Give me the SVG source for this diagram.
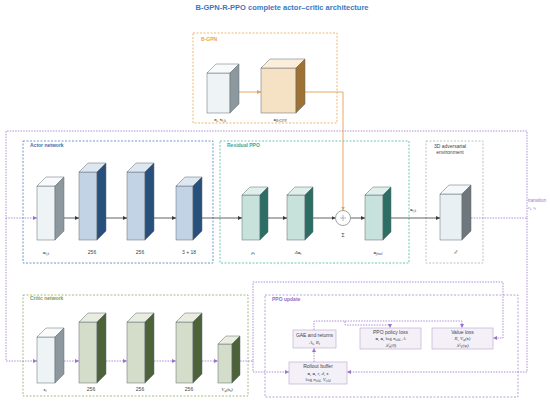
<svg xmlns="http://www.w3.org/2000/svg" width="550" height="402" viewBox="0 0 550 402">
<defs>
<style>
text{font-family:"Liberation Sans",Arial,sans-serif;font-size:5px;fill:#444}
.m{font-family:"Liberation Serif","Times New Roman",serif;font-style:italic}
.b{font-weight:bold;font-style:normal}
.sub{font-size:3.6px}
.lbl{font-weight:bold;font-size:5px}
.box{fill:none;stroke-width:0.8;stroke-dasharray:2,1.5}
.cs{stroke:#5f6a70;stroke-width:0.5}
.gf{fill:#eef3f6}.gt{fill:#f8fafb}.gs{fill:#8d989e}
.bf{fill:#c3d3e6}.bt{fill:#dde7f1}.bs{fill:#27507c}
.tf{fill:#c6e2da}.tt{fill:#dff0ea}.ts{fill:#2d6e64}
.sf{fill:#d4ddc9}.st{fill:#e8ede0}.ss{fill:#4c6239}
.of{fill:#f5e1c3}.ot{fill:#fbefdc}.os{fill:#9e7235}
.ef{fill:#e8f0f4}.et{fill:#f5f8fa}.es{fill:#6f777c}
.dk{fill:none;stroke:#3a3a3a;stroke-width:0.8;marker-end:url(#ad)}
.pu{fill:none;stroke:#9b72cf;stroke-width:0.8;stroke-dasharray:1.5,1.2}
.pa{marker-end:url(#ap)}
.or{fill:none;stroke:#e8a050;stroke-width:0.9}
.pb{fill:#f4f0f8;stroke:#b9a6d4;stroke-width:0.6}
</style>
<marker id="ad" viewBox="0 0 6 6" refX="6" refY="3" markerWidth="4" markerHeight="4" orient="auto" markerUnits="userSpaceOnUse"><path d="M0,0 L6,3 L0,6 z" fill="#3a3a3a"/></marker>
<marker id="ap" viewBox="0 0 6 6" refX="6" refY="3" markerWidth="4" markerHeight="4" orient="auto" markerUnits="userSpaceOnUse"><path d="M0,0 L6,3 L0,6 z" fill="#9b72cf"/></marker>
<marker id="ao" viewBox="0 0 6 6" refX="6" refY="3" markerWidth="4" markerHeight="4" orient="auto" markerUnits="userSpaceOnUse"><path d="M0,0 L6,3 L0,6 z" fill="#e8a050"/></marker>
</defs>
<rect width="550" height="402" fill="#fff"/>
<text x="282" y="10" text-anchor="middle" style="font-size:7.5px;font-weight:bold;fill:#3a78c0">B-GPN-R-PPO complete actor–critic architecture</text>

<!-- containers -->
<g id="bgpn-box"><rect class="box" x="193" y="33" width="144" height="90" stroke="#e8a84c"/><text x="201" y="41" class="lbl" style="fill:#e8a84c">B-GPN</text></g>
<g id="actor-box"><rect class="box" x="23" y="141" width="190" height="122" stroke="#4a7fc0"/><text x="30" y="147" class="lbl" style="fill:#3a6fb0">Actor network</text></g>
<g id="residual-box"><rect class="box" x="220" y="141" width="189" height="122" stroke="#4db8a8"/><text x="227" y="147" class="lbl" style="fill:#3aa898">Residual PPO</text></g>
<g id="env-box"><rect class="box" x="426" y="141" width="57" height="122" stroke="#b0b0b0"/><text x="450" y="148" text-anchor="middle">3D adversarial</text><text x="450" y="154" text-anchor="middle">environment</text></g>
<g id="critic-box"><rect class="box" x="23" y="295" width="225" height="101" stroke="#8fa860"/><text x="30" y="300" class="lbl" style="fill:#7f9a50">Critic network</text></g>
<g id="ppo-box"><rect class="box" x="265" y="295" width="253" height="102" stroke="#a58bd0"/><text x="272" y="301" class="lbl" style="fill:#9070c0">PPO update</text></g>

<!-- connectors -->
<g id="connectors">
<path class="or" d="M239,92 L261,92" marker-end="url(#ao)"/>
<path class="or" d="M305,92 L343,92 L343,210.5" marker-end="url(#ao)"/>
<path class="dk" d="M64,218 L79,218"/>
<path class="dk" d="M106,218 L127,218"/>
<path class="dk" d="M154,218 L176,218"/>
<path class="dk" d="M202,218 L242,218"/>
<path class="dk" d="M268,218 L287,218"/>
<path class="dk" d="M313,218 L335.5,218"/>
<path class="dk" d="M350.5,218 L365,218"/>
<path class="dk" d="M391,218 L440,218"/>
<path class="pu pa" d="M471,218 L527,218 L527,131 L6,131 L6,218 L37,218"/>
<path class="pu pa" d="M6,218 L6,361 L37,361"/>
<path class="pu pa" d="M527,218 L527,372 L347,372"/>
<path class="pu pa" d="M64,361 L79,361"/>
<path class="pu pa" d="M106,361 L127,361"/>
<path class="pu pa" d="M154,361 L176,361"/>
<path class="pu pa" d="M202,361 L218,361"/>
<path class="pu pa" d="M240,361 L253,361 L253,282 L503,282 L503,338 L493,338"/>
<path class="pu pa" d="M253,361 L253,372 L289,372"/>
<path class="pu pa" d="M314,362 L314,348"/>
<path class="pu pa" d="M314,330 L314,321 L345,321 L345,325 L390,325 L390,328"/>
<path class="pu pa" d="M345,321 L462,321 L462,328"/>
<text x="413" y="211" text-anchor="middle" class="m"><tspan class="b">a</tspan><tspan class="sub" dy="1">t,k</tspan></text>
<text x="528" y="202" style="fill:#9b72cf;font-size:4.5px">transition</text>
<text x="528" y="209" class="m" style="fill:#9b72cf;font-size:4.5px">r<tspan class="sub" dy="1">t</tspan><tspan dy="-1">, s</tspan><tspan class="sub" dy="1">t</tspan></text>
</g>

<!-- B-GPN nodes -->
<g id="bgpn-input">
<rect class="gf cs" x="207" y="73" width="23" height="40"/>
<polygon class="gt cs" points="207,73 216,64 239,64 230,73"/>
<polygon class="gs cs" points="230,73 239,64 239,104 230,113"/>
<text x="220" y="121" text-anchor="middle" class="m"><tspan class="b">r</tspan><tspan class="sub" dy="1">t</tspan><tspan dy="-1">, </tspan><tspan class="b">v</tspan><tspan class="sub" dy="1">t,k</tspan></text>
</g>
<g id="bgpn-net">
<rect class="of cs" x="261" y="68" width="35" height="45"/>
<polygon class="ot cs" points="261,68 270,59 305,59 296,68"/>
<polygon class="os cs" points="296,68 305,59 305,104 296,113"/>
<text x="280" y="121" text-anchor="middle" class="m"><tspan class="b">a</tspan><tspan class="sub" dy="1">B-GPN</tspan></text>
</g>

<!-- Actor -->
<g id="actor-in">
<rect class="gf cs" x="37" y="186" width="18" height="54"/>
<polygon class="gt cs" points="37,186 46,177 64,177 55,186"/>
<polygon class="gs cs" points="55,186 64,177 64,231 55,240"/>
<text x="46" y="254" text-anchor="middle" class="m"><tspan class="b">o</tspan><tspan class="sub" dy="1">t,k</tspan></text>
</g>
<g id="actor-h1">
<rect class="bf cs" x="79" y="172" width="18" height="68"/>
<polygon class="bt cs" points="79,172 88,163 106,163 97,172"/>
<polygon class="bs cs" points="97,172 106,163 106,231 97,240"/>
<text x="92" y="254" text-anchor="middle">256</text>
</g>
<g id="actor-h2">
<rect class="bf cs" x="127" y="172" width="18" height="68"/>
<polygon class="bt cs" points="127,172 136,163 154,163 145,172"/>
<polygon class="bs cs" points="145,172 154,163 154,231 145,240"/>
<text x="140" y="254" text-anchor="middle">256</text>
</g>
<g id="actor-out">
<rect class="bf cs" x="176" y="186" width="17" height="54"/>
<polygon class="bt cs" points="176,186 185,177 202,177 193,186"/>
<polygon class="bs cs" points="193,186 202,177 202,231 193,240"/>
<text x="189" y="254" text-anchor="middle">3 + 18</text>
</g>

<!-- Residual -->
<g id="res-mu">
<rect class="tf cs" x="242" y="195" width="18" height="45"/>
<polygon class="tt cs" points="242,195 250,187 268,187 260,195"/>
<polygon class="ts cs" points="260,195 268,187 268,232 260,240"/>
<text x="253" y="254" text-anchor="middle" class="m">μ<tspan class="sub" dy="1">t</tspan></text>
</g>
<g id="res-delta">
<rect class="tf cs" x="287" y="195" width="18" height="45"/>
<polygon class="tt cs" points="287,195 295,187 313,187 305,195"/>
<polygon class="ts cs" points="305,195 313,187 313,232 305,240"/>
<text x="298" y="254" text-anchor="middle" class="m">Δ<tspan class="b">a</tspan><tspan class="sub" dy="1">t</tspan></text>
</g>
<g id="res-sum">
<circle cx="343" cy="218" r="7.5" fill="#fff" stroke="#5f6a70" stroke-width="0.6"/>
<path d="M340,218 H346 M343,215 V221" stroke="#777" stroke-width="0.5"/>
<text x="343" y="237" text-anchor="middle">Σ</text>
</g>
<g id="res-final">
<rect class="tf cs" x="365" y="195" width="18" height="45"/>
<polygon class="tt cs" points="365,195 373,187 391,187 383,195"/>
<polygon class="ts cs" points="383,195 391,187 391,232 383,240"/>
<text x="378" y="254" text-anchor="middle" class="m"><tspan class="b">a</tspan><tspan class="sub" dy="1">final</tspan></text>
</g>

<!-- Environment -->
<g id="env">
<rect class="ef cs" x="440" y="194" width="22" height="46"/>
<polygon class="et cs" points="440,194 449,185 471,185 462,194"/>
<polygon class="es cs" points="462,194 471,185 471,231 462,240"/>
<text x="455" y="254" text-anchor="middle" class="m">ℰ</text>
</g>

<!-- Critic -->
<g id="critic-in">
<rect class="gf cs" x="37" y="337" width="18" height="46"/>
<polygon class="gt cs" points="37,337 46,328 64,328 55,337"/>
<polygon class="gs cs" points="55,337 64,328 64,374 55,383"/>
<text x="45" y="391" text-anchor="middle" class="m"><tspan class="b">s</tspan><tspan class="sub" dy="1">t</tspan></text>
</g>
<g id="critic-h1">
<rect class="sf cs" x="79" y="322" width="18" height="61"/>
<polygon class="st cs" points="79,322 88,313 106,313 97,322"/>
<polygon class="ss cs" points="97,322 106,313 106,374 97,383"/>
<text x="91" y="391" text-anchor="middle">256</text>
</g>
<g id="critic-h2">
<rect class="sf cs" x="127" y="322" width="18" height="61"/>
<polygon class="st cs" points="127,322 136,313 154,313 145,322"/>
<polygon class="ss cs" points="145,322 154,313 154,374 145,383"/>
<text x="140" y="391" text-anchor="middle">256</text>
</g>
<g id="critic-h3">
<rect class="sf cs" x="176" y="322" width="17" height="61"/>
<polygon class="st cs" points="176,322 185,313 202,313 193,322"/>
<polygon class="ss cs" points="193,322 202,313 202,374 193,383"/>
<text x="189" y="391" text-anchor="middle">256</text>
</g>
<g id="critic-out">
<rect class="sf cs" x="218" y="344" width="14" height="39"/>
<polygon class="st cs" points="218,344 226,336 240,336 232,344"/>
<polygon class="ss cs" points="232,344 240,336 240,375 232,383"/>
<text x="227" y="391" text-anchor="middle" class="m">V<tspan class="sub" dy="1">φ</tspan><tspan dy="-1">(</tspan><tspan class="b">s</tspan><tspan class="sub" dy="1">t</tspan><tspan dy="-1">)</tspan></text>
</g>

<!-- PPO update -->
<g id="gae">
<rect class="pb" x="293" y="330" width="43" height="18"/>
<text x="314.5" y="337" text-anchor="middle">GAE and returns</text>
<text x="314.5" y="344" text-anchor="middle" class="m">A<tspan class="sub" dy="1">t</tspan><tspan dy="-1">, R</tspan><tspan class="sub" dy="1">t</tspan></text>
</g>
<g id="policy-loss">
<rect class="pb" x="360" y="328" width="61" height="21"/>
<text x="390.5" y="334" text-anchor="middle">PPO policy loss</text>
<text x="390.5" y="340" text-anchor="middle" class="m"><tspan class="b">o</tspan>, <tspan class="b">a</tspan>, <tspan style="font-style:normal">log</tspan> π<tspan class="sub" dy="1">old</tspan><tspan dy="-1">, A</tspan></text>
<text x="390.5" y="346.5" text-anchor="middle" class="m">ℒ<tspan class="sub" dy="1">π</tspan><tspan dy="-1">(θ)</tspan></text>
</g>
<g id="value-loss">
<rect class="pb" x="432" y="328" width="61" height="21"/>
<text x="462.5" y="334" text-anchor="middle">Value loss</text>
<text x="462.5" y="340" text-anchor="middle" class="m">R, V<tspan class="sub" dy="1">φ</tspan><tspan dy="-1">(</tspan><tspan class="b">s</tspan>)</text>
<text x="462.5" y="346.5" text-anchor="middle" class="m">ℒ<tspan class="sub" dy="1">V</tspan><tspan dy="-1">(φ)</tspan></text>
</g>
<g id="rollout">
<rect class="pb" x="289" y="362" width="58" height="22"/>
<text x="318" y="368" text-anchor="middle">Rollout buffer</text>
<text x="318" y="374.5" text-anchor="middle" class="m"><tspan class="b">o</tspan>, <tspan class="b">a</tspan>, r, d, <tspan class="b">s</tspan></text>
<text x="318" y="381" text-anchor="middle" class="m"><tspan style="font-style:normal">log</tspan> π<tspan class="sub" dy="1">old</tspan><tspan dy="-1">, V</tspan><tspan class="sub" dy="1">old</tspan></text>
</g>
</svg>
